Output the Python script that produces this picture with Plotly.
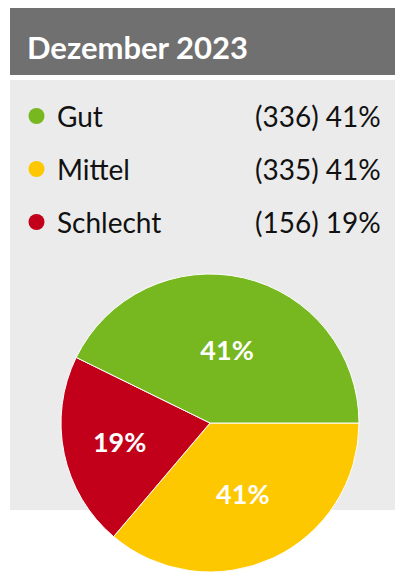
import plotly.graph_objects as go

# page body has an 8px margin; figure sits at (8, 8) in the window
OFF = 8
W, H = 403 - OFF, 572 - OFF

title = "Dezember 2023"
categories = ["Mittel", "Schlecht", "Gut"]          # pie order (clockwise from 3 o'clock)
colors = ["#fdc800", "#c2001a", "#77b71f"]
slice_shares = [36.2, 21.05, 42.75]                   # slice sizes as drawn in the picture
slice_labels = ["41%", "19%", "41%"]

legend_names = ["Gut", "Mittel", "Schlecht"]
legend_counts = [336, 335, 156]
legend_pcts = ["41%", "41%", "19%"]
legend_colors = ["#77b71f", "#fdc800", "#c2001a"]

def px(x):
    return (x - OFF) / W

def py(y):
    return 1 - (y - OFF) / H

fig = go.Figure()

fig.add_trace(go.Pie(
    labels=categories,
    values=slice_shares,
    text=slice_labels,
    textinfo="text",
    textposition="inside",
    insidetextorientation="horizontal",
    textfont=dict(family="Lato", size=27, color="white", weight="bold"),
    marker=dict(colors=colors, line=dict(color="white", width=1)),
    sort=False,
    direction="clockwise",
    rotation=90,
    showlegend=False,
    hoverinfo="skip",
    domain=dict(x=[px(60), px(360)], y=[0, py(274)]),
))

shapes = [
    dict(type="rect", xref="paper", yref="paper", x0=px(10), x1=1.0, y0=py(75), y1=py(8),
         fillcolor="#6f706f", line=dict(width=0), layer="below"),
    dict(type="rect", xref="paper", yref="paper", x0=px(10), x1=1.0, y0=py(510), y1=py(80),
         fillcolor="#ebebeb", line=dict(width=0), layer="below"),
]

annotations = [
    dict(text=f"<b>{title}</b>", xref="paper", yref="paper", x=px(25), y=py(47),
         xanchor="left", yanchor="middle", showarrow=False,
         font=dict(family="Lato", size=31, color="white")),
]

row_y0, row_step = 116, 53
for i, (name, cnt, pct, col) in enumerate(zip(legend_names, legend_counts, legend_pcts, legend_colors)):
    cy = row_y0 + i * row_step
    shapes.append(dict(type="circle", xref="paper", yref="paper",
                       x0=px(28.5), x1=px(44.5), y0=py(cy + 8), y1=py(cy - 8),
                       fillcolor=col, line=dict(width=0), layer="above"))
    annotations.append(dict(text=name, xref="paper", yref="paper", x=px(55), y=py(cy),
                            xanchor="left", yanchor="middle", showarrow=False,
                            font=dict(family="Lato", size=28, color="#111111")))
    annotations.append(dict(text=f"({cnt}) {pct}", xref="paper", yref="paper", x=px(383), y=py(cy),
                            xanchor="right", yanchor="middle", showarrow=False,
                            font=dict(family="Lato", size=28, color="#111111")))

fig.update_layout(
    width=W, height=H,
    margin=dict(l=0, r=0, t=0, b=0),
    paper_bgcolor="white",
    plot_bgcolor="white",
    shapes=shapes,
    annotations=annotations,
)

fig.write_html("out.html")
